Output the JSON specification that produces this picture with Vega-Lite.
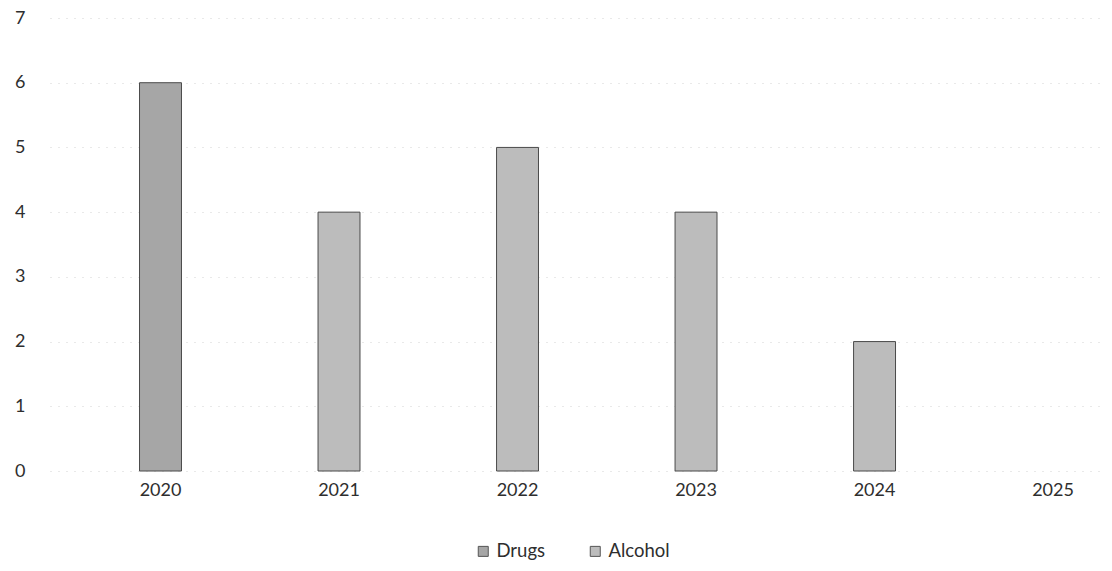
{
  "$schema": "https://vega.github.io/schema/vega-lite/v6.json",
  "width": 1055,
  "height": 453,
  "autosize": {"type": "none"},
  "padding": {"left": 50, "top": 18, "right": 7, "bottom": 100},
  "background": "white",
  "config": {"view": {"stroke": null}, "font": "Lato"},
  "data": {
    "values": [
      {"year": "2020", "type": "Drugs", "value": 6},
      {"year": "2021", "type": "Alcohol", "value": 4},
      {"year": "2022", "type": "Alcohol", "value": 5},
      {"year": "2023", "type": "Alcohol", "value": 4},
      {"year": "2024", "type": "Alcohol", "value": 2}
    ]
  },
  "mark": {"type": "bar", "stroke": "#4a4a4a", "strokeWidth": 1},
  "encoding": {
    "x": {
      "field": "year",
      "type": "nominal",
      "sort": null,
      "scale": {
        "domain": ["2020", "2021", "2022", "2023", "2024", "2025"],
        "paddingInner": 0.765,
        "paddingOuter": 0.3375,
        "align": 0.743
      },
      "axis": {
        "title": null,
        "labelAngle": 0,
        "domain": false,
        "ticks": false,
        "labelPadding": 10,
        "labelFontSize": 18,
        "labelFont": "Lato",
        "labelColor": "#2e2e2e"
      }
    },
    "y": {
      "field": "value",
      "type": "quantitative",
      "stack": "zero",
      "scale": {"domain": [0, 7], "nice": false},
      "axis": {
        "title": null,
        "values": [0, 1, 2, 3, 4, 5, 6, 7],
        "domain": false,
        "ticks": false,
        "labelPadding": 25,
        "labelFontSize": 18,
        "labelFont": "Lato",
        "labelColor": "#2e2e2e",
        "grid": true,
        "gridColor": "#d2d2d2",
        "gridDash": [1, 7],
        "gridWidth": 1
      }
    },
    "color": {
      "field": "type",
      "type": "nominal",
      "scale": {"domain": ["Drugs", "Alcohol"], "range": ["#a6a6a6", "#bcbcbc"]},
      "legend": {
        "orient": "none",
        "legendX": 424,
        "legendY": 524,
        "direction": "horizontal",
        "title": null,
        "symbolType": "square",
        "symbolSize": 100,
        "symbolStrokeColor": "#555555",
        "symbolStrokeWidth": 1,
        "labelFontSize": 18.5,
        "labelFont": "Lato",
        "labelColor": "#2e2e2e",
        "labelOffset": 4,
        "columnPadding": 40
      }
    }
  }
}
